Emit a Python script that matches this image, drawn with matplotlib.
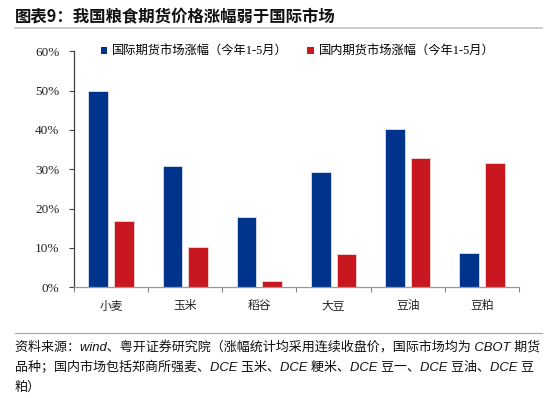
from matplotlib import pyplot as plt
from matplotlib.patches import Patch
from matplotlib.lines import Line2D
from matplotlib.ticker import FuncFormatter, FixedLocator
import numpy as np

categories = ["小麦", "玉米", "稻谷", "大豆", "豆油", "豆粕"]
intl_values = [0.500, 0.309, 0.178, 0.294, 0.402, 0.086]
dom_values = [0.167, 0.101, 0.015, 0.083, 0.328, 0.316]
legend_labels = ["国际期货市场涨幅（今年1-5月）", "国内期货市场涨幅（今年1-5月）"]
title_text = "图表9：我国粮食期货价格涨幅弱于国际市场"
source_lines = [
    "资料来源：wind、粤开证券研究院（涨幅统计均采用连续收盘价，国际市场均为 CBOT 期货",
    "品种；国内市场包括郑商所强麦、DCE 玉米、DCE 粳米、DCE 豆一、DCE 豆油、DCE 豆",
    "粕）",
]

BLUE = "#00338C"
RED = "#C8171F"
CJK = "Noto Sans CJK SC"
SERIF = ["Liberation Serif", CJK]

W, H = 550, 398
fig = plt.figure(figsize=(W / 100, H / 100), dpi=100)
ax = fig.add_axes([74 / W, (H - 287) / H, (519 - 74) / W, (287 - 51.5) / H])

x = np.arange(len(categories))
width = 0.265
offset = 0.172
ax.bar(x - offset, intl_values, width, color=BLUE, edgecolor="#DDE3EE", linewidth=0.6)
ax.bar(x + offset, dom_values, width, color=RED, edgecolor="#F0D8D8", linewidth=0.6)

ax.set_xlim(-0.5, len(categories) - 0.5)
ax.set_ylim(0, 0.6)
ax.set_yticks(np.arange(0, 0.61, 0.1))
ax.yaxis.set_major_formatter(FuncFormatter(lambda v, p: f"{v * 100:.0f}%"))
ax.set_xticks(x)
ax.set_xticklabels(categories, family=[CJK], fontsize=8.5, color="#222222")
ax.xaxis.set_minor_locator(FixedLocator(np.arange(-0.5, len(categories), 1.0)))
ax.tick_params(axis="x", which="major", length=0, pad=9)
ax.tick_params(axis="x", which="minor", length=3.5, color="#888888", width=0.8)
ax.tick_params(axis="y", length=3.5, width=0.8, color="#404040", pad=7, labelsize=9.5)
for lab in ax.get_yticklabels():
    lab.set_family(SERIF)
    lab.set_color("#222222")

for side in ["top", "right"]:
    ax.spines[side].set_visible(False)
ax.spines["left"].set_color("#404040")
ax.spines["left"].set_linewidth(0.9)
ax.spines["bottom"].set_color("#999999")
ax.spines["bottom"].set_linewidth(0.9)

handles = [Patch(facecolor=BLUE), Patch(facecolor=RED)]
ax.legend(handles, legend_labels, loc="center left", bbox_to_anchor=(0.035, 1.0),
          ncol=2, frameon=False, handlelength=0.55, handleheight=0.55,
          handletextpad=0.4, columnspacing=1.6,
          prop={"family": SERIF, "size": 8.8})

# title and rules
fig.text(15 / W, 1 - 17.5 / H, title_text, family=[CJK], fontweight="bold",
         fontsize=11.8, va="center", ha="left", color="#111111")
fig.add_artist(Line2D([15 / W, 542 / W], [1 - 27.5 / H, 1 - 27.5 / H],
                      color="#C8C8C8", linewidth=1.3))
fig.add_artist(Line2D([15 / W, 542 / W], [1 - 332.5 / H, 1 - 332.5 / H],
                      color="#AAAAAA", linewidth=0.9))

# source note
for i, line in enumerate(source_lines):
    fig.text(15 / W, 1 - (347 + i * 20.5) / H, line, family=["Liberation Sans", CJK],
             style="italic", fontsize=9.4, va="center", ha="left", color="#111111")

plt.savefig("out.png", dpi=100)
plt.close()
